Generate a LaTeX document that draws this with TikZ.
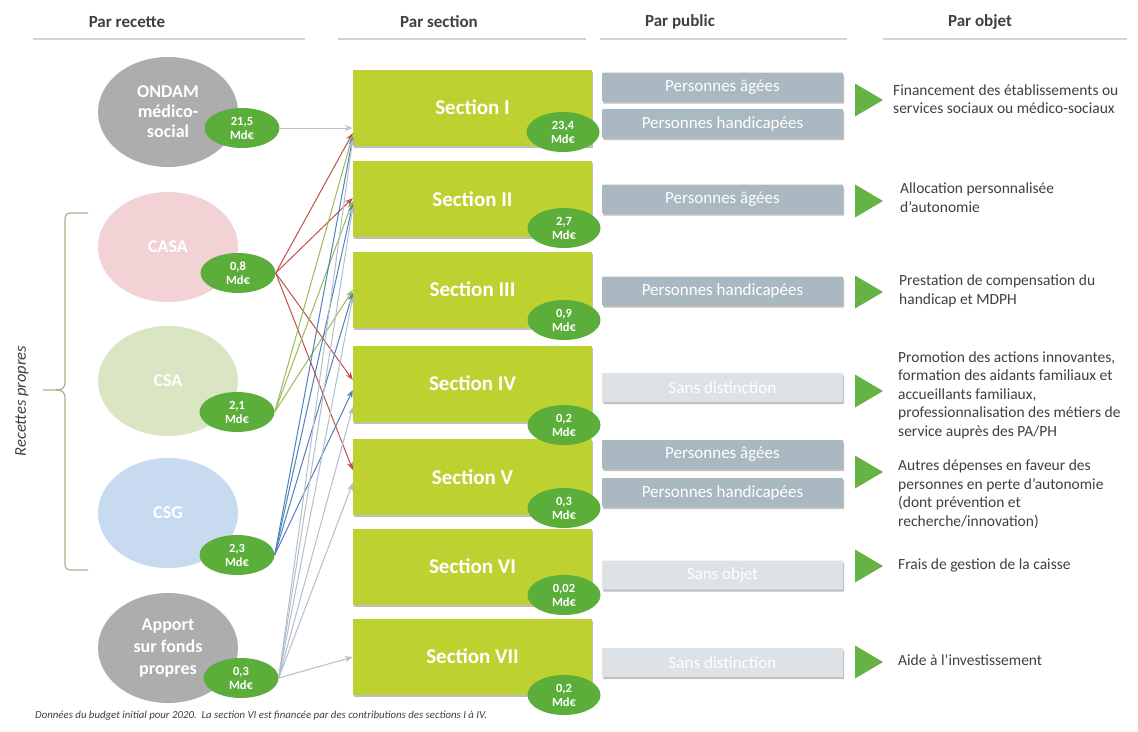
\documentclass[tikz,border=0pt]{standalone}
\usepackage{fontspec}
\setmainfont{Carlito}
\usetikzlibrary{shapes.geometric,arrows.meta,calc,shadows}
\definecolor{hdrc}{HTML}{404040}
\definecolor{rulec}{HTML}{D4D4D4}
\definecolor{ondamc}{HTML}{ADADAD}
\definecolor{casac}{HTML}{F3D2D6}
\definecolor{csac}{HTML}{DAE5C4}
\definecolor{csgc}{HTML}{C8DAF0}
\definecolor{badgec}{HTML}{5CAE3A}
\definecolor{sectc}{HTML}{BDD231}
\definecolor{pubdc}{HTML}{AAB8C2}
\definecolor{publc}{HTML}{DCE2E6}
\definecolor{tric}{HTML}{66B245}
\definecolor{bracec}{HTML}{A8B08A}
\definecolor{ared}{HTML}{C0504D}
\definecolor{agreen}{HTML}{9BBB59}
\definecolor{ablue}{HTML}{4F81BD}
\definecolor{alight}{HTML}{B3BFCC}
\definecolor{agray}{HTML}{BCC2C8}
\newcommand\objtri[1]{\fill[tric] (855,#1-16.5) -- (883,#1) -- (855,#1+16.5) -- cycle;}
\begin{document}
\begin{tikzpicture}[x=1pt,y=-1pt,
  hdr/.style={font=\bfseries\fontsize{17}{20}\selectfont, text=hdrc, inner sep=0pt},
  hline/.style={draw=rulec, line width=1.3pt},
  src/.style={ellipse, minimum width=140pt, minimum height=110pt, inner sep=0pt, align=center, text=white, font=\bfseries\fontsize{18}{20}\selectfont},
  badge/.style={ellipse, fill=badgec, minimum width=75pt, minimum height=40pt, inner sep=0pt, align=center, text=white, font=\bfseries\fontsize{12.5}{14}\selectfont},
  sbadge/.style={badge, minimum width=73pt},
  sect/.style={rectangle, fill=sectc, minimum width=239pt, minimum height=76pt, inner sep=0pt, text=white, font=\bfseries\fontsize{21}{24}\selectfont, drop shadow={shadow xshift=1pt, shadow yshift=-2pt, opacity=0.25, fill=black}},
  pub/.style={rectangle, rounded corners=1pt, minimum width=241pt, minimum height=29pt, inner sep=0pt, text=white, font=\fontsize{17}{20}\selectfont, drop shadow={shadow xshift=1pt, shadow yshift=-2pt, opacity=0.25, fill=black}},
  obj/.style={anchor=west, align=left, text=hdrc, inner sep=0pt, font=\fontsize{15.5}{18.5}\selectfont},
  con/.style={line width=1pt, -{Stealth[length=8pt,width=6pt]}},
]
\useasboundingbox[fill=white] (0,0) rectangle (1138,731);

% headers
\node[hdr] (h1) at (127,22) {Par recette};
\node[hdr] (h2) at (439,22) {Par section};
\node[hdr] (h3) at (680,22) {Par public};
\node[hdr] (h4) at (980,22) {Par objet};
\draw[hline] (33,39) -- (305,39);
\draw[hline] (338,39) -- (586,39);
\draw[hline] (600,39) -- (847,39);
\draw[hline] (883,39) -- (1127,39);

% sources
\node[src, fill=ondamc] (ondam) at (168,112) {ONDAM\\médico-\\social};
\node[src, fill=casac] (casa) at (168,247) {CASA};
\node[src, fill=csac] (csa) at (168,381) {CSA};
\node[src, fill=csgc] (csg) at (168,513) {CSG};
\node[src, fill=ondamc, font=\bfseries\fontsize{18}{22}\selectfont] (apport) at (168,648) {Apport\\sur fonds\\propres};

\node[badge] (bondam) at (242,128) {21,5\\Md€};
\node[badge] (bcasa) at (238,273) {0,8\\Md€};
\node[badge] (bcsa) at (237,412) {2,1\\Md€};
\node[badge] (bcsg) at (237,555) {2,3\\Md€};
\node[badge] (bapport) at (241,678) {0,3\\Md€};

% brace
\draw[bracec, line width=1.2pt] (88,213) -- (71,213) .. controls (67,213) and (65,215) .. (65,219) -- (65,382) .. controls (65,388) and (62,390) .. (56,390) -- (43,390);
\draw[bracec, line width=1.2pt] (88,570) -- (71,570) .. controls (67,570) and (65,568) .. (65,564) -- (65,398) .. controls (65,392) and (62,390) .. (56,390);
\node[rotate=90, font=\itshape\fontsize{16.5}{18}\selectfont, text=hdrc] (rp) at (22,401) {Recettes propres};

% sections
\node[sect] (s1) at (472.5,107.5) {Section I};
\node[sect] (s2) at (472.5,199) {Section II};
\node[sect] (s3) at (472.5,289.5) {Section III};
\node[sect] (s4) at (472.5,383.5) {Section IV};
\node[sect] (s5) at (472.5,477) {Section V};
\node[sect] (s6) at (472.5,566.5) {Section VI};
\node[sect] (s7) at (472.5,656.5) {Section VII};

\node[sbadge] (v1) at (563,132) {23,4\\Md€};
\node[sbadge] (v2) at (564,228) {2,7\\Md€};
\node[sbadge] (v3) at (564,320) {0,9\\Md€};
\node[sbadge] (v4) at (564,425) {0,2\\Md€};
\node[sbadge] (v5) at (564,508) {0,3\\Md€};
\node[sbadge] (v6) at (564,595) {0,02\\Md€};
\node[sbadge] (v7) at (564,695) {0,2\\Md€};

% public
\node[pub, fill=pubdc] (p1) at (722.5,87) {Personnes âgées};
\node[pub, fill=pubdc] (p2) at (722.5,123.5) {Personnes handicapées};
\node[pub, fill=pubdc] (p3) at (722.5,199) {Personnes âgées};
\node[pub, fill=pubdc] (p4) at (722.5,291) {Personnes handicapées};
\node[pub, fill=publc] (p5) at (722.5,387.5) {Sans distinction};
\node[pub, fill=pubdc] (p6) at (722.5,454.5) {Personnes âgées};
\node[pub, fill=pubdc] (p7) at (722.5,492.5) {Personnes handicapées};
\node[pub, fill=publc] (p8) at (722.5,575) {Sans objet};
\node[pub, fill=publc] (p9) at (722.5,662.5) {Sans distinction};

% triangles
\objtri{100}
\objtri{201}
\objtri{292}
\objtri{391}
\objtri{472}
\objtri{566}
\objtri{662}

% objects
\node[obj] (o1) at (893,99) {Financement des établissements ou\\services sociaux ou médico-sociaux};
\node[obj] (o2) at (900,197.5) {Allocation personnalisée\\d’autonomie};
\node[obj] (o3) at (899,291) {Prestation de compensation du\\handicap et MDPH};
\node[obj] (o4) at (898,395) {Promotion des actions innovantes,\\formation des aidants familiaux et\\accueillants familiaux,\\professionnalisation des métiers de\\service auprès des PA/PH};
\node[obj] (o5) at (898,494) {Autres dépenses en faveur des\\personnes en perte d’autonomie\\(dont prévention et\\recherche/innovation)};
\node[obj] (o6) at (898,565) {Frais de gestion de la caisse};
\node[obj] (o7) at (898,660) {Aide à l’investissement};

% footnote
\node[anchor=west, inner sep=0pt, text=hdrc, font=\itshape\fontsize{10.8}{12}\selectfont] (fn) at (35,716) {Données du budget initial pour 2020.\ \ La section VI est financée par des contributions des sections I à IV.};

% connectors
\draw[con, draw=agray] (bondam.east) -- ($(s1.west)+(0,20.5)$);
% CASA
\draw[con, draw=ared] (bcasa.east) -- ($(s1.west)+(0,25.5)$);
\draw[con, draw=ared] (bcasa.east) -- ($(s2.west)+(0,-1)$);
\draw[con, draw=ared] (bcasa.east) -- ($(s4.west)+(0,-3.5)$);
\draw[con, draw=ared] (bcasa.east) -- ($(s5.west)+(0,-7)$);
% CSA
\draw[con, draw=agreen] (bcsa.east) -- ($(s1.west)+(0,27.5)$);
\draw[con, draw=agreen] (bcsa.east) -- ($(s2.west)+(0,2)$);
\draw[con, draw=agreen] (bcsa.east) -- ($(s3.west)+(0,0.5)$);
% CSG
\draw[con, draw=ablue] (bcsg.east) -- ($(s1.west)+(0,29.5)$);
\draw[con, draw=ablue] (bcsg.east) -- ($(s2.west)+(0,5)$);
\draw[con, draw=ablue] (bcsg.east) -- ($(s3.west)+(0,3.5)$);
\draw[con, draw=ablue] (bcsg.east) -- ($(s4.west)+(0,6.5)$);
% Apport
\draw[con, draw=alight] (bapport.east) -- ($(s1.west)+(0,31.5)$);
\draw[con, draw=alight] (bapport.east) -- ($(s2.west)+(0,8)$);
\draw[con, draw=alight] (bapport.east) -- ($(s3.west)+(0,7.5)$);
\draw[con, draw=alight] (bapport.east) -- ($(s4.west)+(0,23.5)$);
\draw[con, draw=alight] (bapport.east) -- ($(s5.west)+(0,6)$);
\draw[con, draw=alight] (bapport.east) -- ($(s7.west)+(0,0.5)$);
\end{tikzpicture}
\end{document}
